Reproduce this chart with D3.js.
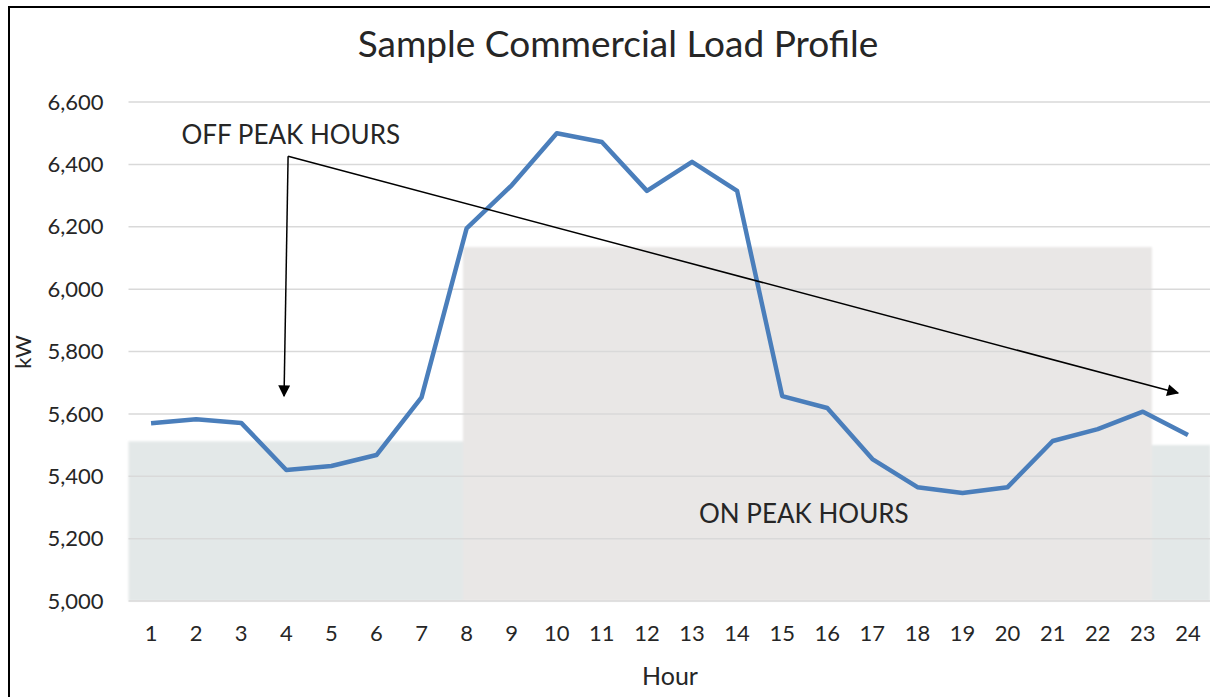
<!DOCTYPE html>
<html>
<head>
<meta charset="utf-8">
<script src="https://cdn.jsdelivr.net/npm/d3@7"></script>
<style>
  body { margin: 0; background: #fff; }
  text { font-family: Lato, "Open Sans", sans-serif; fill: #262626; }
</style>
</head>
<body>
<script>
// hours and load values
const hours = d3.range(1, 25)
const load = [5570, 5583, 5571, 5420, 5433, 5468, 5653, 6195, 6333, 6500, 6472, 6315,
              6408, 6315, 5657, 5619, 5455, 5365, 5346, 5365, 5513, 5551, 5607, 5532]
const yTicks = [5000, 5200, 5400, 5600, 5800, 6000, 6200, 6400, 6600]

// shaded backgrounds: [from hour, to hour, level kW]
const offPeak = [[0.5, 7.92, 5512], [23.2, 24.5, 5500]]
const onPeak = [[7.92, 23.2, 6135]]

// annotations (hour, kW)
const offLabel = {text: "OFF PEAK HOURS", h: 4.1, v: 6494}
const onLabel = {text: "ON PEAK HOURS", h: 15.48, v: 5279}
const arrowFrom = [4.04, 6426]
const arrowTo = [[3.95, 5657], [23.78, 5667]]

const W = 1210, H = 697
const margin = {top: 102, right: 0, bottom: 96, left: 128.5}
  , width = 1210.5 - margin.left
  , height = 601 - margin.top

const svg = d3.select('body').append('svg')
    .attr('width', W)
    .attr('height', H)

// outer frame (right and bottom fall outside the picture)
svg.append('rect')
    .attr('x', 9).attr('y', 7)
    .attr('width', W + 20).attr('height', H + 20)
    .attr('fill', 'none').attr('stroke', '#000').attr('stroke-width', 2)

const x = d3.scaleLinear().domain([0.5, 24.5]).range([0, width])
const y = d3.scaleLinear().domain([5000, 6600]).range([height, 0])

const g = svg.append('g').attr('transform', `translate(${margin.left},${margin.top})`)

const defs = svg.append('defs')
defs.append('filter').attr('id', 'soft')
    .append('feGaussianBlur').attr('stdDeviation', 1.2)
const mk = defs.append('marker').attr('id', 'head')
    .attr('viewBox', '0 0 10 10').attr('refX', 9).attr('refY', 5)
    .attr('markerWidth', 13).attr('markerHeight', 12)
    .attr('markerUnits', 'userSpaceOnUse')
    .attr('orient', 'auto')
mk.append('path').attr('d', 'M0,0L10,5L0,10Z').attr('fill', '#000')

// shading
g.append('g').attr('filter', 'url(#soft)').selectAll('rect')
    .data(offPeak.map(d => [...d, '#e3e8e8']).concat(onPeak.map(d => [...d, '#e9e7e6'])))
    .enter().append('rect')
    .attr('x', d => x(d[0]))
    .attr('width', d => x(d[1]) - x(d[0]))
    .attr('y', d => y(d[2]))
    .attr('height', d => height - y(d[2]))
    .attr('fill', d => d[3])

// gridlines
g.append('g').selectAll('line')
    .data(yTicks)
    .enter().append('line')
    .attr('x1', 0).attr('x2', width)
    .attr('y1', d => y(d)).attr('y2', d => y(d))
    .attr('stroke', '#d9d9d9').attr('stroke-width', 1.5)

// y labels
const fmt = d3.format(',')
g.append('g').selectAll('text')
    .data(yTicks)
    .enter().append('text')
    .attr('x', -25).attr('y', d => y(d))
    .attr('dy', '0.35em')
    .attr('text-anchor', 'end')
    .attr('font-size', 22)
    .text(d => fmt(d))

// x labels
g.append('g').selectAll('text')
    .data(hours)
    .enter().append('text')
    .attr('x', d => x(d)).attr('y', height + 32)
    .attr('dy', '0.35em')
    .attr('text-anchor', 'middle')
    .attr('font-size', 22)
    .text(d => d)

// load line
g.append('path')
    .datum(load)
    .attr('fill', 'none')
    .attr('stroke', '#4a7ebb')
    .attr('stroke-width', 4.5)
    .attr('stroke-linejoin', 'round')
    .attr('d', d3.line().x((d, i) => x(hours[i])).y(d => y(d)))

// arrows
g.append('g').selectAll('line')
    .data(arrowTo)
    .enter().append('line')
    .attr('x1', x(arrowFrom[0])).attr('y1', y(arrowFrom[1]))
    .attr('x2', d => x(d[0])).attr('y2', d => y(d[1]))
    .attr('stroke', '#000').attr('stroke-width', 1.5)
    .attr('marker-end', 'url(#head)')

// annotation labels
g.selectAll('.note')
    .data([offLabel, onLabel])
    .enter().append('text')
    .attr('class', 'note')
    .attr('x', d => x(d.h)).attr('y', d => y(d.v))
    .attr('dy', '0.35em')
    .attr('text-anchor', 'middle')
    .attr('font-size', 26)
    .text(d => d.text)

// title and axis titles
svg.append('text')
    .attr('x', 618).attr('y', 44)
    .attr('dy', '0.35em')
    .attr('text-anchor', 'middle')
    .attr('font-size', 37)
    .text('Sample Commercial Load Profile')

svg.append('text')
    .attr('x', 670).attr('y', 676)
    .attr('dy', '0.35em')
    .attr('text-anchor', 'middle')
    .attr('font-size', 25)
    .text('Hour')

svg.append('text')
    .attr('transform', 'translate(23,352) rotate(-90)')
    .attr('dy', '0.35em')
    .attr('text-anchor', 'middle')
    .attr('font-size', 22)
    .text('kW')
</script>
</body>
</html>
